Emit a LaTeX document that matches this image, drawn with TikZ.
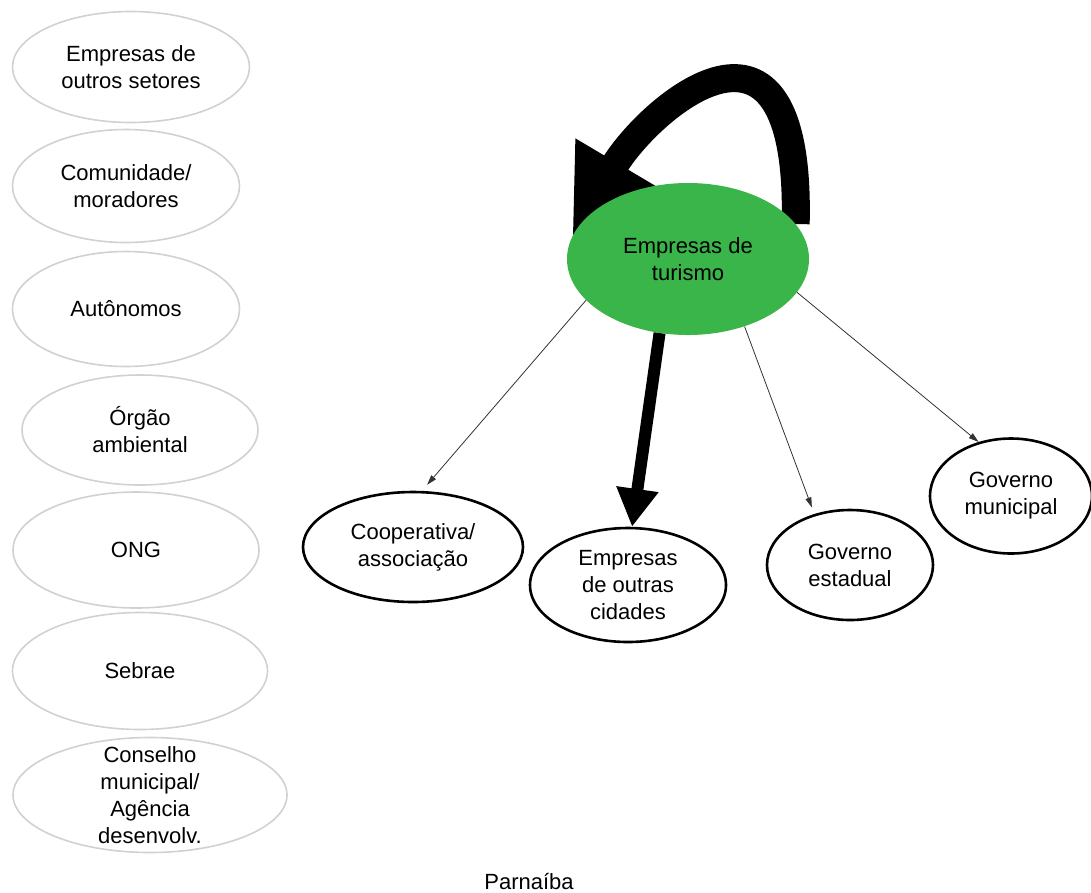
\documentclass[tikz,border=0pt]{standalone}
\usepackage{fontspec}
\setmainfont{Liberation Sans}
\usetikzlibrary{positioning,shapes.geometric,arrows.meta}
\pgfdeclarelayer{back}
\pgfsetlayers{back,main}
\definecolor{hubgreen}{RGB}{57,181,74}

\begin{document}
\begin{tikzpicture}[x=1pt,y=-1pt,on grid,node distance=121pt,
		every node/.style={font=\fontsize{22pt}{27pt}\selectfont,align=center,inner sep=0pt},
		other/.style={ellipse,draw=black!18,line width=1.6pt},
		actor/.style={ellipse,draw=black,line width=2.6pt},
		hub/.style={ellipse,fill=hubgreen},
		rel/.style={draw=black!80,line width=0.8pt,-{Triangle[length=10pt,width=6pt]}},
		strong/.style={line width=12pt,-{Triangle[length=38pt,width=40pt]}}]
		\useasboundingbox (0,0) rectangle (1091,892);

		% actors not linked
		\node[other,minimum width=237pt,minimum height=111pt] (outrosSet) at (131,67) {Empresas de\\outros setores};
		\node[other,minimum width=227pt,minimum height=113pt] (comun) [below=119pt of outrosSet,xshift=-5pt] {Comunidade/\\moradores};
		\node[other,minimum width=227pt,minimum height=115pt] (auton) [below=123pt of comun] {Autônomos};
		\node[other,minimum width=236pt,minimum height=110pt] (orgao) [below=of auton,xshift=14pt] {Órgão\\ambiental};
		\node[other,minimum width=246pt,minimum height=116pt] (ong) [below=120pt of orgao,xshift=-4pt] {ONG};
		\node[other,minimum width=255pt,minimum height=117pt] (sebrae) [below=of ong,xshift=4pt] {Sebrae};
		\node[other,minimum width=274pt,minimum height=115pt,inner sep=-20pt] (conselho) [below=124pt of sebrae,xshift=10pt] {Conselho\\municipal/\\Agência\\desenvolv.};

		% linked actors
		\node[hub,minimum width=242pt,minimum height=152pt] (turismo) at (688,259) {Empresas de\\turismo};
		\node[actor,minimum width=220pt,minimum height=110pt] (coop) at (413,547) {Cooperativa/\\associação};
		\node[actor,minimum width=196pt,minimum height=114pt] (outrasCid) at (628,585) {Empresas\\de outras\\cidades};
		\node[actor,minimum width=166pt,minimum height=110pt] (govEst) at (850,565) {Governo\\estadual};
		\node[actor,minimum width=162pt,minimum height=115pt] (govMun) at (1011,496) {Governo\\municipal};

		\node (parnaiba) at (529,881) {Parnaíba};

		\begin{pgfonlayer}{back}
			\draw[line width=28pt,-{Triangle[length=86pt,width=88pt]}] (turismo.18) .. controls +(6,-250) and +(76,-128) .. (turismo.169);
		\end{pgfonlayer}

		\draw[rel,shorten >=8pt] (turismo.202) -- (coop.81);
		\draw[strong] (turismo.249) -- (outrasCid.86);
		\draw[rel,shorten >=7pt] (turismo.310) -- (govEst.125);
		\draw[rel] (turismo.343) -- (govMun.121);
	\end{tikzpicture}
\end{document}
